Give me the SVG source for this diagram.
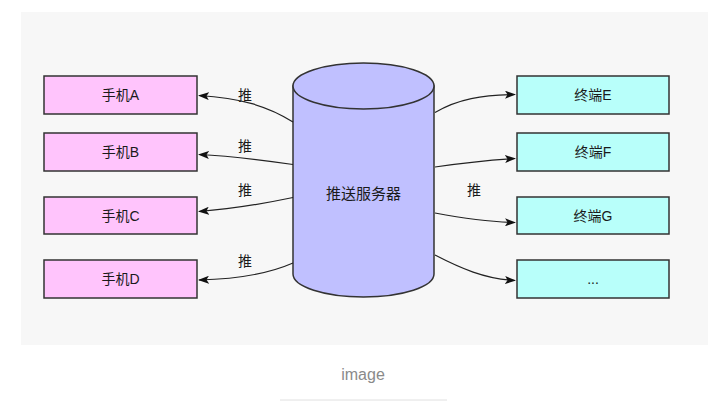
<svg xmlns="http://www.w3.org/2000/svg" width="727" height="403" viewBox="0 0 727 403">
<defs>
<marker id="ah" markerWidth="11" markerHeight="8" refX="10" refY="4" orient="auto" markerUnits="userSpaceOnUse">
<path d="M0,0 L11,4 L0,8 L2.5,4 Z" fill="#111"/>
</marker>
<style>
.t{font-family:"Liberation Sans","Noto Sans CJK SC",sans-serif;font-size:14px;fill:#1a1a1a;text-anchor:middle;dominant-baseline:central}
.ph{fill:#ffc4fc;stroke:#333;stroke-width:1.5}
.tm{fill:#b8fffa;stroke:#333;stroke-width:1.5}
.c{fill:none;stroke:#222;stroke-width:1.2;marker-end:url(#ah)}
</style>
</defs>
<rect x="0" y="0" width="727" height="403" fill="#ffffff"/>
<rect x="21" y="12" width="687" height="333" fill="#f7f7f7"/>
<g id="server">
<path d="M293,86 L293,274 A70.5,23 0 0 0 434,274 L434,86 Z" fill="#c0c0ff" stroke="#333" stroke-width="1.5"/>
<ellipse cx="363.5" cy="86" rx="70.5" ry="23" fill="#c0c0ff" stroke="#333" stroke-width="1.5"/>
<text class="t" x="363.5" y="193" style="font-size:15px">推送服务器</text>
</g>
<g id="phoneA"><rect class="ph" x="44" y="76" width="153" height="38"/><text class="t" x="120.5" y="95">手机A</text></g>
<g id="phoneB"><rect class="ph" x="44" y="133" width="153" height="38"/><text class="t" x="120.5" y="152">手机B</text></g>
<g id="phoneC"><rect class="ph" x="44" y="197" width="153" height="37"/><text class="t" x="120.5" y="215.5">手机C</text></g>
<g id="phoneD"><rect class="ph" x="44" y="260" width="153" height="38"/><text class="t" x="120.5" y="279">手机D</text></g>
<g id="termE"><rect class="tm" x="517" y="76" width="152" height="38"/><text class="t" x="593" y="95">终端E</text></g>
<g id="termF"><rect class="tm" x="517" y="133" width="152" height="38"/><text class="t" x="593" y="152">终端F</text></g>
<g id="termG"><rect class="tm" x="517" y="197" width="152" height="37"/><text class="t" x="593" y="215.5">终端G</text></g>
<g id="termMore"><rect class="tm" x="517" y="260" width="152" height="38"/><text class="t" x="593" y="279">...</text></g>
<g id="connectors">
<path class="c" d="M293,122 C268,106 240,98 199,95.5"/>
<path class="c" d="M293,164.5 C262,160 232,156 199,154.5"/>
<path class="c" d="M293,197.5 C262,204 232,209 199,211.5"/>
<path class="c" d="M293,263 C268,274 240,279 199,280"/>
<path class="c" d="M435,112.5 C458,99 482,95 515,94.5"/>
<path class="c" d="M435,167 C462,163 488,160 515,158.5"/>
<path class="c" d="M435,213 C462,218 488,222 515,222.5"/>
<path class="c" d="M435,255 C460,268 485,279 515,280.5"/>
<text class="t" x="245" y="95">推</text>
<text class="t" x="245" y="146">推</text>
<text class="t" x="245" y="190">推</text>
<text class="t" x="245" y="261">推</text>
<text class="t" x="474" y="190">推</text>
</g>
<text x="363" y="374" style="font-family:'Liberation Sans',sans-serif;font-size:16px;fill:#8a8a8a;text-anchor:middle;dominant-baseline:central">image</text>
<line x1="280" y1="400" x2="447" y2="400" stroke="#e0e0e0" stroke-width="1"/>
</svg>
